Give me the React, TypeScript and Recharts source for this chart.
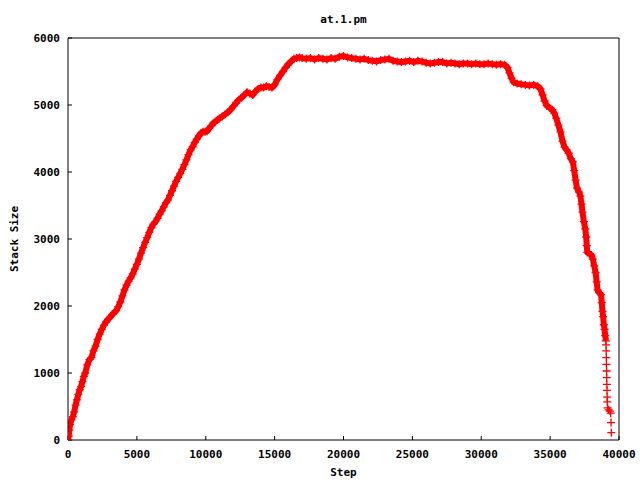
import React from 'react';
import { ComposedChart, Line, Scatter, XAxis, YAxis } from 'recharts';

// Step values and stack sizes (main dense part of the run)
const mainSteps: number[] = [
  0, 50, 100, 150, 250, 350, 450, 550, 650, 750, 850, 950, 1050, 1150, 1250, 1400, 1550, 1700, 1850, 2000,
  2150, 2300, 2450, 2600, 2750, 2900, 3050, 3200, 3350, 3500, 3650, 3800, 3950, 4100, 4250, 4400, 4550, 4700, 4850, 5000,
  5150, 5300, 5450, 5600, 5750, 5900, 6050, 6200, 6350, 6500, 6650, 6800, 6950, 7100, 7250, 7400, 7550, 7700, 7850, 8000,
  8150, 8300, 8450, 8600, 8750, 8900, 9050, 9200, 9350, 9500, 9650, 9800, 9950, 10100, 10250, 10400, 10550, 10700, 10850, 11000,
  11200, 11400, 11600, 11800, 12000, 12200, 12400, 12600, 12800, 13000, 13200, 13400, 13600, 13800, 14000, 14200, 14400, 14600, 14800, 15000,
  15200, 15400, 15600, 15800, 16000, 16200, 16400, 16600, 16800, 17000, 17300, 17600, 17900, 18200, 18500, 18800, 19100, 19400, 19700, 20000,
  20300, 20600, 20900, 21200, 21500, 21800, 22100, 22400, 22700, 23000, 23300, 23600, 23900, 24200, 24500, 24800, 25100, 25400, 25700, 26000,
  26300, 26600, 26900, 27200, 27500, 27800, 28100, 28400, 28700, 29000, 29300, 29600, 29900, 30200, 30500, 30800, 31100, 31400, 31700, 31900,
  32050, 32200, 32350, 32600, 32900, 33200, 33500, 33800, 34100, 34300, 34450, 34600, 34750, 34950, 35150, 35300, 35450, 35600, 35750, 35900,
  36050, 36200, 36350, 36500, 36650, 36750, 36850, 36950, 37100, 37200, 37280, 37350, 37450, 37550, 37620, 37660, 37700, 37850, 38000, 38100,
  38200, 38300, 38380, 38440, 38550, 38700, 38750, 38800, 38850, 38900, 38950, 39000, 39050,
];
const mainSizes: number[] = [
  0, 60, 150, 230, 300, 350, 420, 520, 600, 680, 750, 800, 870, 950, 1000, 1120, 1200, 1230, 1330, 1400,
  1500, 1580, 1650, 1710, 1760, 1800, 1830, 1870, 1900, 1930, 1990, 2060, 2150, 2240, 2310, 2370, 2420, 2480, 2550, 2620,
  2700, 2790, 2870, 2950, 3020, 3100, 3170, 3220, 3260, 3310, 3370, 3420, 3480, 3540, 3580, 3650, 3720, 3790, 3860, 3920,
  3980, 4040, 4110, 4180, 4260, 4330, 4380, 4440, 4490, 4540, 4580, 4600, 4600, 4610, 4650, 4690, 4730, 4750, 4780, 4800,
  4830, 4860, 4890, 4930, 4980, 5030, 5080, 5110, 5150, 5190, 5170, 5150, 5200, 5240, 5260, 5260, 5280, 5270, 5260, 5300,
  5380, 5440, 5500, 5560, 5610, 5650, 5690, 5700, 5710, 5700, 5690, 5700, 5680, 5700, 5690, 5680, 5700, 5690, 5720, 5730,
  5710, 5700, 5690, 5680, 5690, 5670, 5660, 5650, 5670, 5680, 5690, 5660, 5650, 5640, 5650, 5660, 5640, 5660, 5650, 5630,
  5620, 5630, 5640, 5640, 5620, 5630, 5620, 5610, 5620, 5620, 5610, 5620, 5610, 5610, 5620, 5610, 5600, 5610, 5600, 5560,
  5480, 5400, 5340, 5320, 5310, 5300, 5290, 5300, 5280, 5240, 5150, 5060, 4990, 4960, 4930, 4880, 4800, 4700, 4600, 4460,
  4370, 4330, 4280, 4200, 4150, 4020, 3880, 3760, 3700, 3640, 3520, 3400, 3260, 3150, 3030, 2900, 2800, 2780, 2760, 2700,
  2600, 2500, 2360, 2240, 2200, 2170, 2050, 1920, 1840, 1720, 1650, 1560, 1480,
];

// Sparse tail at the end of the run
const tailSteps: number[] = [
  39060, 39070, 39080, 39090, 39100, 39110, 39120, 39130, 39140, 39150, 39170, 39250, 39350, 39400, 39420, 39440,
];
const tailSizes: number[] = [
  1420, 1330, 1230, 1130, 1030, 930, 830, 740, 640, 570, 480, 450, 430, 400, 260, 110,
];

const xTicks: number[] = [0, 5000, 10000, 15000, 20000, 25000, 30000, 35000, 40000];
const yTicks: number[] = [0, 1000, 2000, 3000, 4000, 5000, 6000];

const title = 'at.1.pm';
const xLabel = 'Step';
const yLabel = 'Stack Size';

const mainData = mainSteps.map((s, i) => ({ step: s, size: mainSizes[i] }));
const tailData = tailSteps.map((s, i) => ({ step: s, size: tailSizes[i] }));

const RED = '#ff0000';
const FONT = 'DejaVu Sans Mono';
const tickStyle = { fontFamily: FONT, fontWeight: 'bold', fontSize: 11, fill: '#000' };

const Cross = (props: any) => {
  const { cx, cy } = props;
  if (cx == null || cy == null) return <g />;
  const h = 4;
  return (
    <path
      d={`M${cx - h},${cy}h${2 * h}M${cx},${cy - h}v${2 * h}`}
      stroke={RED}
      strokeWidth={1.3}
      fill="none"
    />
  );
};

export default function App() {
  return (
    <div style={{ position: 'absolute', left: 0, top: 0, width: 640, height: 480, background: '#fff' }}>
      <ComposedChart width={640} height={480} margin={{ top: 28, right: 11, bottom: 0, left: 0 }}>
        <XAxis
          xAxisId="bottom"
          dataKey="step"
          type="number"
          domain={[0, 40000]}
          ticks={xTicks}
          allowDataOverflow
          height={40}
          stroke="#000"
          tickSize={-4}
          tickMargin={14}
          tick={tickStyle}
          interval={0}
          label={{ value: xLabel, position: 'insideBottom', offset: 4, fontFamily: FONT, fontWeight: 'bold', fontSize: 11, fill: '#000' }}
        />
        <XAxis
          xAxisId="top"
          orientation="top"
          type="number"
          domain={[0, 40000]}
          ticks={xTicks}
          allowDataOverflow
          height={10}
          stroke="#000"
          tickSize={-4}
          tick={false}
          interval={0}
          label={{ value: title, position: 'top', offset: 5, fontFamily: FONT, fontWeight: 'bold', fontSize: 11, fill: '#000' }}
        />
        <YAxis
          yAxisId="left"
          type="number"
          domain={[0, 6000]}
          ticks={yTicks}
          allowDataOverflow
          width={68}
          stroke="#000"
          tickSize={-4}
          tickMargin={12}
          tick={tickStyle}
          interval={0}
          label={{ value: yLabel, angle: -90, position: 'insideLeft', offset: 14, style: { textAnchor: 'middle' }, fontFamily: FONT, fontWeight: 'bold', fontSize: 11, fill: '#000' }}
        />
        <YAxis
          yAxisId="right"
          orientation="right"
          type="number"
          domain={[0, 6000]}
          ticks={yTicks}
          allowDataOverflow
          width={10}
          stroke="#000"
          tickSize={-4}
          tick={false}
          interval={0}
        />
        <Line
          xAxisId="bottom"
          yAxisId="left"
          data={mainData}
          dataKey="size"
          type="linear"
          stroke={RED}
          strokeWidth={6}
          dot={<Cross />}
          activeDot={false}
          isAnimationActive={false}
        />
        <Scatter
          xAxisId="bottom"
          yAxisId="left"
          data={tailData}
          dataKey="size"
          shape={<Cross />}
          isAnimationActive={false}
        />
      </ComposedChart>
    </div>
  );
}
